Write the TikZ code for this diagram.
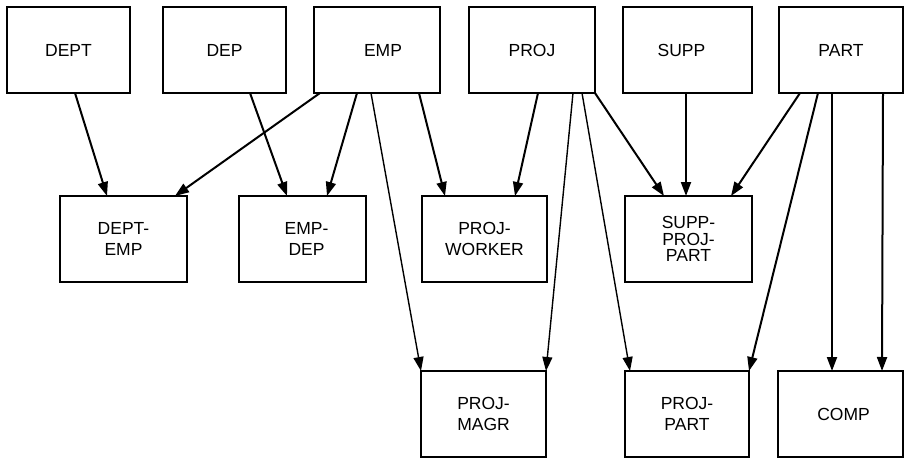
\documentclass[tikz,border=0pt]{standalone}
\usepackage{fontspec}
\setmainfont{Liberation Sans}
\usetikzlibrary{arrows.meta}
\begin{document}
\begin{tikzpicture}[x=1pt,y=-1pt,
  box/.style={draw, line width=2.2pt, rectangle, inner sep=0pt, outer sep=0pt,
    minimum height=86pt, align=center, font=\fontsize{17.5}{21}\selectfont},
  tri/.style={box, font=\fontsize{17.5}{16.5}\selectfont},
  arr/.style={line width=2pt, -{Triangle[length=14pt,width=10pt]}},
  thin arr/.style={line width=1.4pt, -{Triangle[length=14pt,width=10pt]}}]
\useasboundingbox (0,0) rectangle (905,460);
% top row
\node[box, minimum width=123pt] (dept) at (68.5,50) {DEPT};
\node[box, minimum width=123pt] (dep)  at (224.5,50) {DEP};
\node[box, minimum width=126pt] (emp)  at (377,50) {\hspace*{12pt}EMP};
\node[box, minimum width=126pt] (proj) at (532,50) {PROJ};
\node[box, minimum width=129pt] (supp) at (687.5,50) {SUPP\hspace*{12pt}};
\node[box, minimum width=124pt] (part) at (841,50) {PART};
% middle row
\node[box, minimum width=127pt] (deptemp) at (123.5,239) {DEPT-\\EMP};
\node[box, minimum width=127pt] (empdep)  at (302.5,239) {\hspace*{8pt}EMP-\\\hspace*{8pt}DEP};
\node[box, minimum width=125pt] (projworker) at (484.5,239) {PROJ-\\WORKER};
\node[tri, minimum width=127pt] (suppprojpart) at (688.5,239) {SUPP-\\PROJ-\\PART};
% bottom row
\node[box, minimum width=125pt] (projmagr) at (483.5,414) {PROJ-\\MAGR};
\node[box, minimum width=124pt] (projpart) at (687,414) {PROJ-\\PART};
\node[box, minimum width=125pt] (comp) at (840.5,414) {\hspace*{6pt}COMP};
% connectors
\draw[arr] ([xshift=68pt]dept.south west) -- ([xshift=47pt]deptemp.north west);
\draw[arr] ([xshift=6pt]emp.south west) -- ([xshift=115pt]deptemp.north west);
\draw[arr] ([xshift=87pt]dep.south west) -- ([xshift=48pt]empdep.north west);
\draw[arr] ([xshift=43pt]emp.south west) -- ([xshift=88pt]empdep.north west);
\draw[thin arr] ([xshift=57pt]emp.south west) -- ([xshift=0pt]projmagr.north west);
\draw[arr] ([xshift=105pt]emp.south west) -- ([xshift=23pt]projworker.north west);
\draw[arr] ([xshift=69pt]proj.south west) -- ([xshift=93pt]projworker.north west);
\draw[thin arr] ([xshift=104pt]proj.south west) -- (projmagr.north east);
\draw[thin arr] ([xshift=113pt]proj.south west) -- ([xshift=5pt]projpart.north west);
\draw[arr] (proj.south east) -- ([xshift=39pt]suppprojpart.north west);
\draw[arr] ([xshift=63pt]supp.south west) -- ([xshift=61pt]suppprojpart.north west);
\draw[arr] ([xshift=21pt]part.south west) -- ([xshift=106pt]suppprojpart.north west);
\draw[arr] ([xshift=39pt]part.south west) -- (projpart.north east);
\draw[arr] ([xshift=53pt]part.south west) -- ([xshift=54pt]comp.north west);
\draw[arr] ([xshift=104pt]part.south west) -- ([xshift=104pt]comp.north west);
\end{tikzpicture}
\end{document}
